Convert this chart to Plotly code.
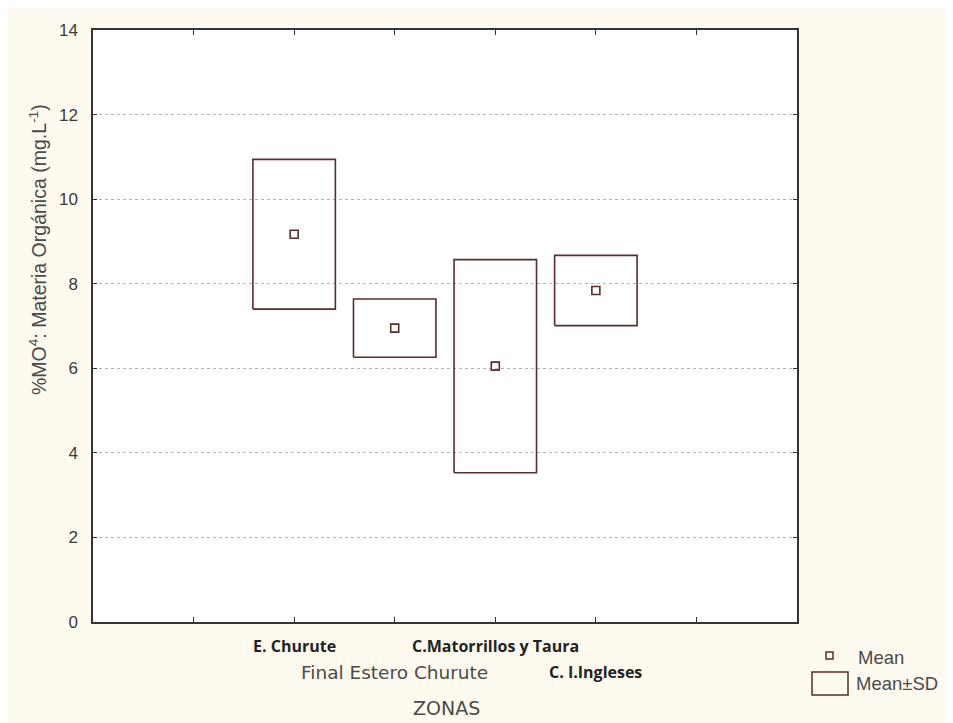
import plotly.graph_objects as go

# ---- data ----
zones = ["E. Churute", "Final Estero Churute", "C.Matorrillos y Taura", "C. I.Ingleses"]
zone_pos = [2, 3, 4, 5]
means = [9.17, 6.95, 6.05, 7.84]
sds = [1.77, 0.69, 2.52, 0.83]
y_ticks = [0, 2, 4, 6, 8, 10, 12, 14]
x_ticks = [1, 2, 3, 4, 5, 6]

# ---- layout geometry (page pixels; page body has an 8px margin) ----
OFF = 8
W, H = 953 - OFF, 723 - OFF
L, T = 93 - OFF, 30 - OFF
PW, PH = 704, 592
R, B = W - L - PW, H - T - PH

def px(x):
    return (x - 93) / PW

def py(y):
    return (622 - y) / PH

BOX = "#5a2c2c"
TXT = "#3a3a3a"
GRAY = "#4a4a4a"
half_w = 0.41

fig = go.Figure()

for p, m, s in zip(zone_pos, means, sds):
    lo, hi = m - s, m + s
    fig.add_trace(go.Scatter(
        x=[p - half_w, p + half_w, p + half_w, p - half_w, p - half_w],
        y=[lo, lo, hi, hi, lo],
        mode="lines", line=dict(color=BOX, width=1.6),
        showlegend=False, hoverinfo="skip"))

fig.add_trace(go.Scatter(
    x=zone_pos, y=means, mode="markers",
    marker=dict(symbol="square-open", size=8, color=BOX, line=dict(width=1.6, color=BOX)),
    showlegend=False))

shapes = [
    # legend: Mean±SD rectangle
    dict(type="rect", xref="paper", yref="paper", x0=px(812), x1=px(848), y0=py(695), y1=py(672),
         fillcolor="rgba(0,0,0,0)", line=dict(color=BOX, width=1.5)),
    # legend: Mean square
    dict(type="rect", xref="paper", yref="paper", x0=px(826), x1=px(833), y0=py(659), y1=py(652),
         fillcolor="rgba(0,0,0,0)", line=dict(color=BOX, width=1.5)),
]

annotations = []
label_rows = [646, 672, 646, 672]
label_bold = [True, False, True, True]
for p, z, yy, b in zip(zone_pos, zones, label_rows, label_bold):
    annotations.append(dict(
        x=p, y=py(yy), xref="x", yref="paper", text=(f"<b>{z}</b>" if b else z),
        showarrow=False, xanchor="center", yanchor="middle",
        font=dict(family=("Open Sans" if b else "DejaVu Sans"), size=(16 if b else 18.5),
                  color=("#222222" if b else GRAY))))

annotations += [
    dict(x=px(446), y=py(708), xref="paper", yref="paper", text="ZONAS", showarrow=False,
         xanchor="center", yanchor="middle", font=dict(family="DejaVu Sans", size=19, color=GRAY)),
    dict(x=px(38), y=py(250), xref="paper", yref="paper",
         text="%MO<sup>4</sup>: Materia Orgánica (mg.L<sup>-1</sup>)", showarrow=False, textangle=-90,
         xanchor="center", yanchor="middle", font=dict(family="Liberation Sans", size=19.5, color=GRAY)),
    dict(x=px(856), y=py(657), xref="paper", yref="paper", text="Mean", showarrow=False,
         xanchor="left", yanchor="middle", font=dict(family="Liberation Sans", size=18.5, color=GRAY)),
    dict(x=px(854), y=py(683), xref="paper", yref="paper", text="Mean±SD", showarrow=False,
         xanchor="left", yanchor="middle", font=dict(family="Liberation Sans", size=18.5, color=GRAY)),
]

fig.update_layout(
    width=W, height=H,
    margin=dict(l=L, r=R, t=T, b=B, pad=0),
    paper_bgcolor="#fffaf0", plot_bgcolor="white",
    showlegend=False,
    shapes=shapes, annotations=annotations,
    xaxis=dict(range=[0, 7], tickvals=x_ticks, showticklabels=False, ticks="inside", ticklen=5,
               tickcolor="#333333", showgrid=False, zeroline=False, showline=True,
               linecolor="#333333", linewidth=1.5, mirror="ticks"),
    yaxis=dict(range=[0, 14], tickvals=y_ticks, ticks="inside", ticklen=4, tickcolor="#333333",
               showgrid=True, gridcolor="#b4b4b4", griddash="dot", gridwidth=1, zeroline=False,
               showline=True, linecolor="#333333", linewidth=1.5, mirror="ticks",
               ticklabelstandoff=10,
               tickfont=dict(family="Liberation Sans", size=17, color=TXT)),
)

fig.write_html("out.html")
